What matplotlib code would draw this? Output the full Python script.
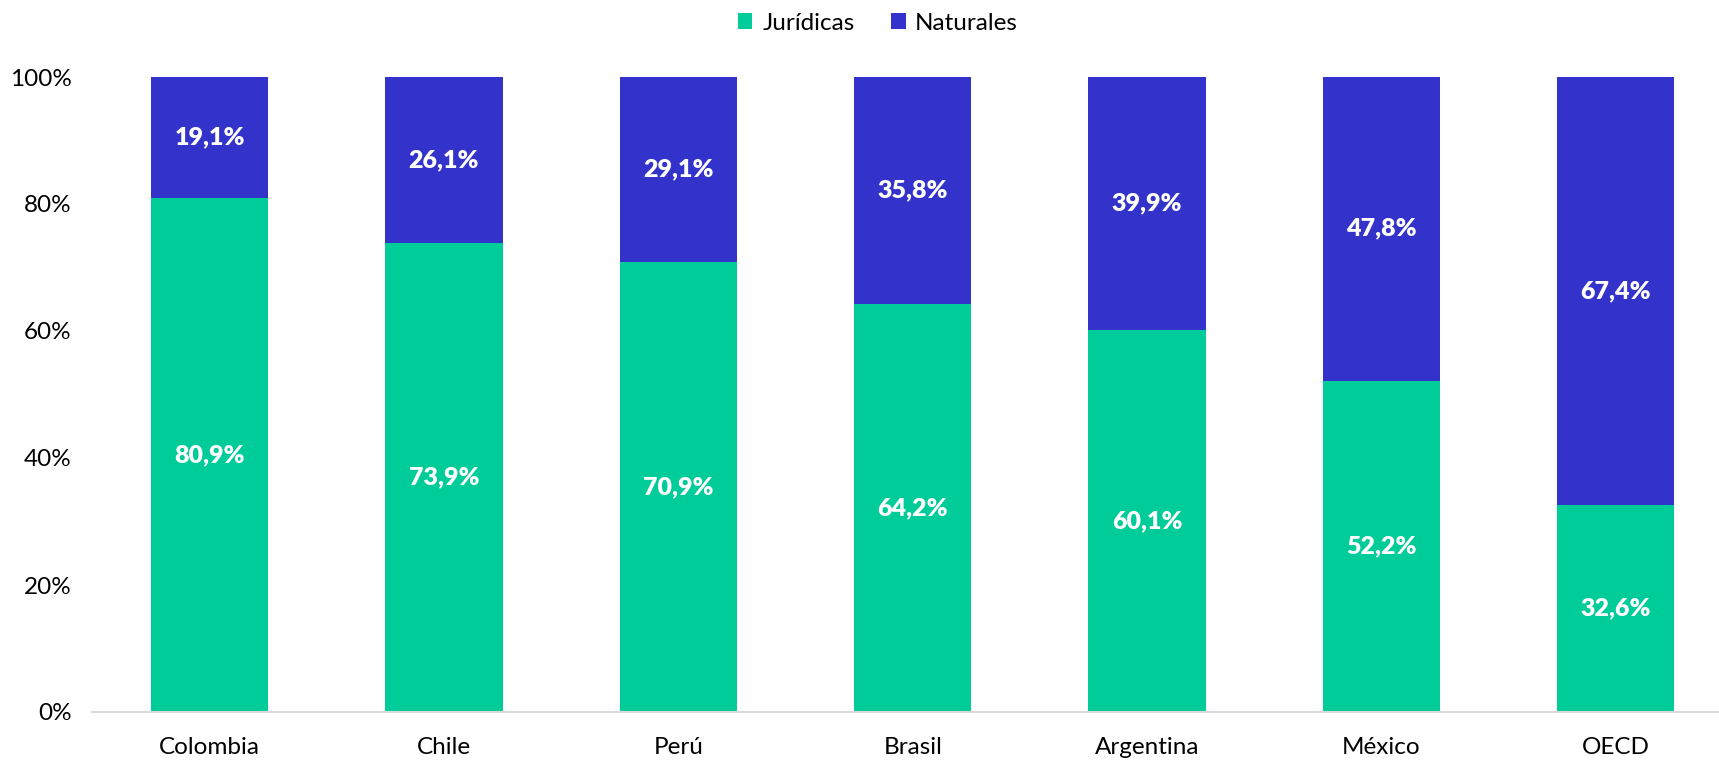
import matplotlib.pyplot as plt
from matplotlib.ticker import FuncFormatter

# data
paises = ['Colombia', 'Chile', 'Perú', 'Brasil', 'Argentina', 'México', 'OECD']
juridicas = [80.9, 73.9, 70.9, 64.2, 60.1, 52.2, 32.6]
naturales = [19.1, 26.1, 29.1, 35.8, 39.9, 47.8, 67.4]

verde = '#00CC99'
azul = '#3333CC'

plt.rcParams['font.family'] = ['Lato', 'DejaVu Sans']

fig = plt.figure(figsize=(17.19, 7.6), dpi=100)
ax = fig.add_axes([92.4/1719, 1-712/760, 1640.6/1719, 635/760])

x = range(len(paises))
b1 = ax.bar(x, juridicas, width=0.5, color=verde, label='Jurídicas')
b2 = ax.bar(x, naturales, width=0.5, bottom=juridicas, color=azul, label='Naturales')

for i in x:
    ax.text(i, juridicas[i]/2, f'{juridicas[i]:.1f}%'.replace('.', ','),
            ha='center', va='center', color='white', fontsize=18, fontweight='heavy')
    ax.text(i, juridicas[i] + naturales[i]/2, f'{naturales[i]:.1f}%'.replace('.', ','),
            ha='center', va='center', color='white', fontsize=18, fontweight='heavy')

ax.set_xlim(-0.5, 6.5)
ax.set_ylim(0, 100)
ax.set_yticks([0, 20, 40, 60, 80, 100])
ax.yaxis.set_major_formatter(FuncFormatter(lambda v, p: f'{v:.0f}%'))
ax.set_xticks(list(x))
ax.set_xticklabels(paises)
ax.tick_params(axis='both', length=0, labelsize=17.5)
ax.tick_params(axis='x', pad=18)
ax.tick_params(axis='y', pad=15)

for s in ['top', 'right', 'left']:
    ax.spines[s].set_visible(False)
ax.spines['bottom'].set_color('#D9D9D9')
ax.spines['bottom'].set_linewidth(1.5)

fig.legend(handles=[b1, b2], loc='center', bbox_to_anchor=(878/1719, 1-23/760),
           ncol=2, frameon=False, fontsize=17.5, handlelength=0.6, handleheight=0.6,
           handletextpad=0.4, columnspacing=1.5)

plt.savefig('out.png', dpi=100)
